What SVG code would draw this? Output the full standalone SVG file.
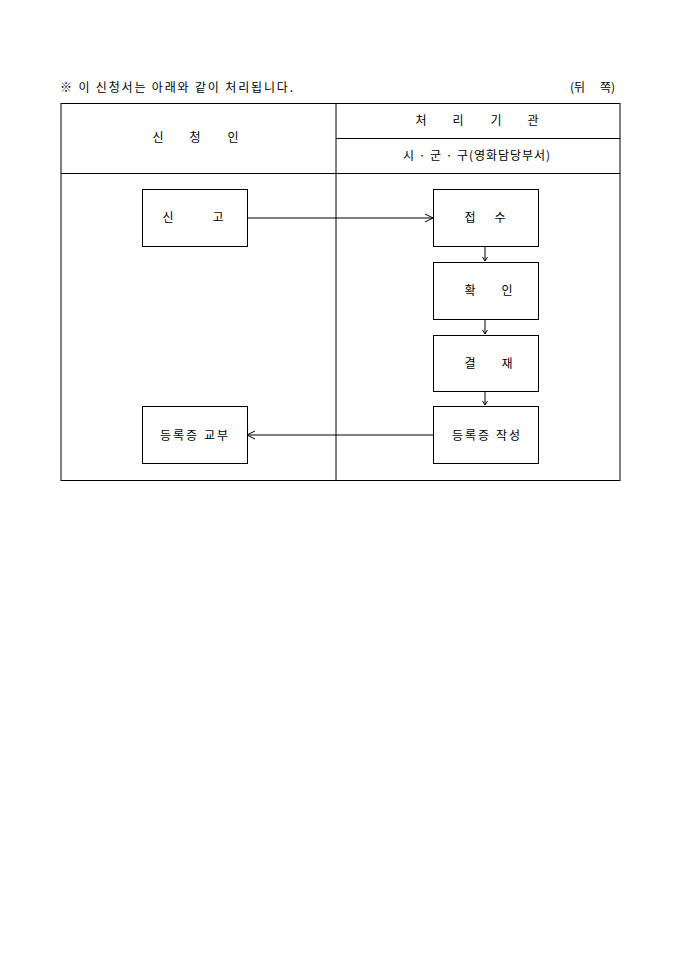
<svg xmlns="http://www.w3.org/2000/svg" width="680" height="962" viewBox="0 0 680 962">
<style>
text{font-family:"Noto Sans CJK KR","Noto Sans CJK SC",sans-serif;font-size:12px;fill:#000}
.c{text-anchor:middle}
.box{fill:#fff;stroke:#000;stroke-width:1}
.ln{stroke:#000;stroke-width:1;fill:none}
</style>
<defs>
<marker id="ah" markerWidth="10" markerHeight="10" refX="9" refY="5" orient="auto" markerUnits="userSpaceOnUse">
<path d="M1,1 L9,5 L1,9" fill="none" stroke="#000" stroke-width="1"/>
</marker>
<marker id="sm" markerWidth="6" markerHeight="6" refX="5" refY="3" orient="auto" markerUnits="userSpaceOnUse">
<path d="M1,0.5 L5,3 L1,5.5" fill="none" stroke="#000" stroke-width="1"/>
</marker>
</defs>
<rect width="680" height="962" fill="#fff"/>
<text x="60" y="92" textLength="233" lengthAdjust="spacing">※ 이 신청서는 아래와 같이 처리됩니다.</text>
<text y="92"><tspan x="570">(뒤</tspan><tspan x="600">쪽)</tspan></text>
<g id="table">
<rect x="61" y="103.5" width="559" height="377" class="ln"/>
<line x1="336" y1="103.5" x2="336" y2="480.5" class="ln"/>
<line x1="336" y1="138.5" x2="620" y2="138.5" class="ln"/>
<line x1="61" y1="173.5" x2="620" y2="173.5" class="ln"/>
<text y="142" class="c"><tspan x="158">신</tspan><tspan x="195">청</tspan><tspan x="233">인</tspan></text>
<text y="125" class="c"><tspan x="421">처</tspan><tspan x="458">리</tspan><tspan x="496">기</tspan><tspan x="533">관</tspan></text>
<text x="403" y="160" textLength="147" lengthAdjust="spacing">시 · 군 · 구(영화담당부서)</text>
</g>
<g id="connectors">
<line x1="247" y1="218" x2="433" y2="218" class="ln" marker-end="url(#ah)"/>
<line x1="485" y1="247" x2="485" y2="261" class="ln" marker-end="url(#sm)"/>
<line x1="485" y1="320" x2="485" y2="334" class="ln" marker-end="url(#sm)"/>
<line x1="485" y1="392" x2="485" y2="405" class="ln" marker-end="url(#sm)"/>
<line x1="433" y1="435" x2="247" y2="435" class="ln" marker-end="url(#ah)"/>
</g>
<g id="n1"><rect x="142.5" y="189.5" width="105" height="57" class="box"/><text y="222" class="c"><tspan x="168">신</tspan><tspan x="218">고</tspan></text></g>
<g id="n2"><rect x="433.5" y="189.5" width="105" height="57" class="box"/><text y="222" class="c"><tspan x="470">접</tspan><tspan x="500">수</tspan></text></g>
<g id="n3"><rect x="433.5" y="262.5" width="105" height="57" class="box"/><text y="295" class="c"><tspan x="470">확</tspan><tspan x="507">인</tspan></text></g>
<g id="n4"><rect x="433.5" y="335.5" width="105" height="56" class="box"/><text y="368" class="c"><tspan x="470">결</tspan><tspan x="507">재</tspan></text></g>
<g id="n5"><rect x="433.5" y="406.5" width="105" height="57" class="box"/><text x="452" y="440" textLength="68" lengthAdjust="spacing">등록증 작성</text></g>
<g id="n6"><rect x="142.5" y="406.5" width="105" height="57" class="box"/><text x="160" y="440" textLength="68" lengthAdjust="spacing">등록증 교부</text></g>
</svg>
